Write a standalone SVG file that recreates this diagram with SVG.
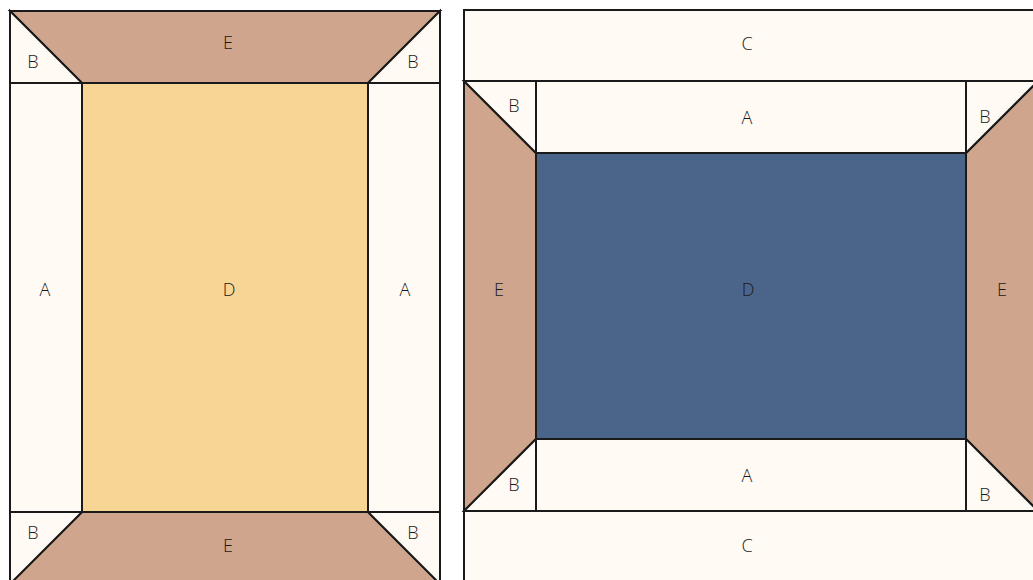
<svg xmlns="http://www.w3.org/2000/svg" width="1033" height="580" viewBox="0 0 1033 580">
<style>
.p{stroke:#1a1a1a;stroke-width:2;stroke-linejoin:miter}
.w{fill:#FFFAF3}
.t{fill:#CFA68D}
.y{fill:#F7D594}
.b{fill:#4A6589}
text{font-family:"Open Sans","Noto Sans","DejaVu Sans",sans-serif;font-size:18px;fill:#1a1a1a;text-anchor:middle;font-weight:300}
</style>
<rect width="1033" height="580" fill="#ffffff"/>
<g id="left-block">
<g id="L-E-top"><polygon class="p t" points="10,11 440,11 368,83 82,83"/><text x="228" y="49">E</text></g>
<g id="L-B-tl"><polygon class="p w" points="10,11 82,83 10,83"/><text x="33" y="68">B</text></g>
<g id="L-B-tr"><polygon class="p w" points="440,11 440,83 368,83"/><text x="413" y="68">B</text></g>
<g id="L-A-left"><rect class="p w" x="10" y="83" width="72" height="429"/><text x="45" y="296">A</text></g>
<g id="L-D"><rect class="p y" x="82" y="83" width="286" height="429"/><text x="229" y="296">D</text></g>
<g id="L-A-right"><rect class="p w" x="368" y="83" width="72" height="429"/><text x="405" y="296">A</text></g>
<g id="L-E-bottom"><polygon class="p t" points="82,512 368,512 440,584 10,584"/><text x="228" y="552">E</text></g>
<g id="L-B-bl"><polygon class="p w" points="10,512 82,512 10,584"/><text x="33" y="539">B</text></g>
<g id="L-B-br"><polygon class="p w" points="368,512 440,512 440,584"/><text x="413" y="539">B</text></g>
</g>
<g id="right-block">
<g id="R-C-top"><rect class="p w" x="464" y="10" width="574" height="71"/><text x="747" y="50">C</text></g>
<g id="R-E-left"><polygon class="p t" points="464,81 536,153 536,439 464,511"/><text x="499" y="296">E</text></g>
<g id="R-B-tl"><polygon class="p w" points="464,81 536,81 536,153"/><text x="514" y="112">B</text></g>
<g id="R-A-top"><rect class="p w" x="536" y="81" width="430" height="72"/><text x="747" y="124">A</text></g>
<g id="R-E-right"><polygon class="p t" points="1038,81 1038,511 966,439 966,153"/><text x="1002" y="296">E</text></g>
<g id="R-B-tr"><polygon class="p w" points="966,81 1038,81 966,153"/><text x="985" y="123">B</text></g>
<g id="R-D"><rect class="p b" x="536" y="153" width="430" height="286"/><text x="748" y="296">D</text></g>
<g id="R-A-bottom"><rect class="p w" x="536" y="439" width="430" height="72"/><text x="747" y="482">A</text></g>
<g id="R-B-bl"><polygon class="p w" points="464,511 536,439 536,511"/><text x="514" y="491">B</text></g>
<g id="R-B-br"><polygon class="p w" points="966,439 1038,511 966,511"/><text x="985" y="501">B</text></g>
<g id="R-C-bottom"><rect class="p w" x="464" y="511" width="574" height="71"/><text x="747" y="552">C</text></g>
</g>
<g id="connectors"></g>
</svg>
